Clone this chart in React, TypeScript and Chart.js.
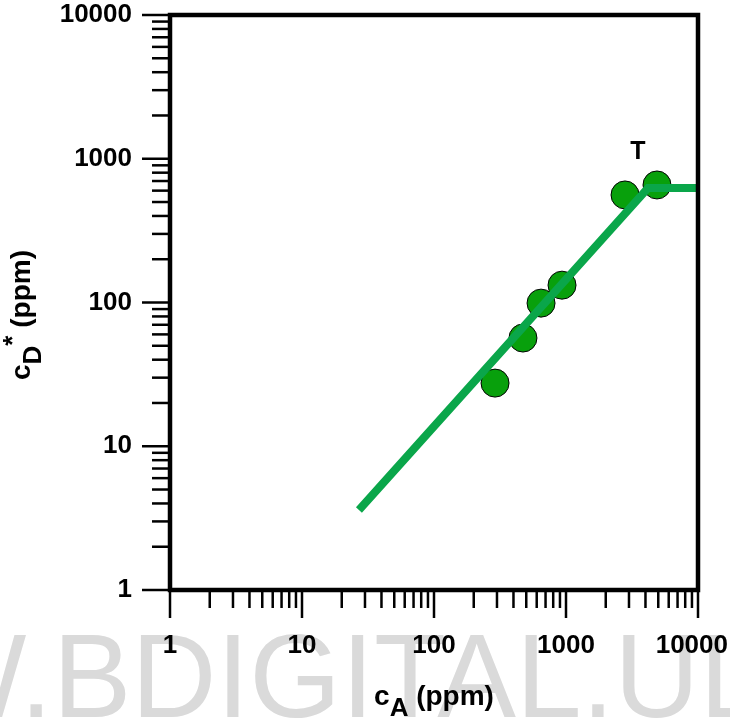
import React, { useEffect, useRef } from 'react';
import { Chart, registerables } from 'chart.js';
Chart.register(...registerables);

const xTickValues = [1, 10, 100, 1000, 10000];
const yTickValues = [1, 10, 100, 1000, 10000];
const pointX = [290, 472, 647, 933, 2800, 4890];
const pointY = [27.5, 56.6, 99, 132, 560, 657];
const fitX = [27, 4180, 10000];
const fitY = [3.6, 626, 626];
const annotationText = 'T';
const annotationX = 3510;
const annotationY = 1114;
const watermarkText = 'W.BDIGITAL.UL';

const FONT = '"Liberation Sans", Arial, Helvetica, sans-serif';

type Part = { text: string; size: number; dy: number };

function drawParts(ctx: CanvasRenderingContext2D, parts: Part[], cx: number, cy: number, rotate: boolean) {
  ctx.save();
  ctx.translate(cx, cy);
  if (rotate) ctx.rotate(-Math.PI / 2);
  ctx.fillStyle = '#000';
  ctx.textBaseline = 'alphabetic';
  ctx.textAlign = 'left';
  let total = 0;
  const widths = parts.map((p) => {
    ctx.font = `bold ${p.size}px ${FONT}`;
    const w = ctx.measureText(p.text).width;
    total += w;
    return w;
  });
  let x = -total / 2;
  parts.forEach((p, i) => {
    ctx.font = `bold ${p.size}px ${FONT}`;
    ctx.fillText(p.text, x, p.dy);
    x += widths[i];
  });
  ctx.restore();
}

const decor = {
  id: 'decor',
  beforeDraw(chart: any) {
    const ctx = chart.ctx as CanvasRenderingContext2D;
    ctx.save();
    ctx.fillStyle = '#ffffff';
    ctx.fillRect(0, 0, chart.width, chart.height);
    ctx.font = `118px ${FONT}`;
    ctx.fillStyle = '#dadada';
    ctx.textBaseline = 'alphabetic';
    ctx.textAlign = 'left';
    ctx.fillText(watermarkText, -85, 717);
    ctx.restore();
  },
  afterDraw(chart: any) {
    const ctx = chart.ctx as CanvasRenderingContext2D;
    const a = chart.chartArea;
    const xs = chart.scales.x;
    const ys = chart.scales.y;
    ctx.save();
    ctx.strokeStyle = '#000';
    ctx.lineWidth = 2.5;
    ctx.lineCap = 'butt';
    for (let e = 0; e < xTickValues.length; e++) {
      const base = xTickValues[e];
      for (let m = 1; m <= 9; m++) {
        if (e === xTickValues.length - 1 && m > 1) break;
        const v = base * m;
        const len = m === 1 ? 28 : 18;
        const px = xs.getPixelForValue(v);
        ctx.beginPath();
        ctx.moveTo(px, a.bottom);
        ctx.lineTo(px, a.bottom + len);
        ctx.stroke();
      }
    }
    for (let e = 0; e < yTickValues.length; e++) {
      const base = yTickValues[e];
      for (let m = 1; m <= 9; m++) {
        if (e === yTickValues.length - 1 && m > 1) break;
        const v = base * m;
        const len = m === 1 ? 28 : 18;
        const py = ys.getPixelForValue(v);
        ctx.beginPath();
        ctx.moveTo(a.left - len, py);
        ctx.lineTo(a.left, py);
        ctx.stroke();
      }
    }
    ctx.lineWidth = 4.5;
    ctx.strokeRect(a.left, a.top, a.right - a.left, a.bottom - a.top);

    // x tick labels (kept inside the canvas)
    ctx.fillStyle = '#000';
    ctx.font = `bold 26px ${FONT}`;
    ctx.textAlign = 'center';
    ctx.textBaseline = 'middle';
    xTickValues.forEach((v) => {
      const txt = String(v);
      const w = ctx.measureText(txt).width;
      const px = Math.min(xs.getPixelForValue(v), chart.width - 2 - w / 2);
      ctx.fillText(txt, px, 646);
    });

    // annotation
    ctx.font = `bold 25px ${FONT}`;
    ctx.fillText(annotationText, xs.getPixelForValue(annotationX), ys.getPixelForValue(annotationY));
    ctx.restore();

    drawParts(ctx, [
      { text: 'c', size: 28, dy: 0 },
      { text: 'A', size: 26, dy: 11 },
      { text: ' (ppm)', size: 28, dy: 0 },
    ], 434, 705, false);
    drawParts(ctx, [
      { text: 'c', size: 28, dy: 0 },
      { text: 'D', size: 26, dy: 11 },
      { text: '*', size: 26, dy: -9 },
      { text: ' (ppm)', size: 28, dy: 0 },
    ], 30, 315, true);
  },
};

export default function App() {
  const ref = useRef<HTMLCanvasElement | null>(null);
  useEffect(() => {
    document.body.style.margin = '0';
    const canvas = ref.current!;
    const chart = new Chart(canvas, {
      type: 'scatter',
      data: {
        datasets: [
          {
            type: 'line',
            data: fitX.map((x, i) => ({ x, y: fitY[i] })),
            borderColor: '#0aa64a',
            borderWidth: 8,
            pointRadius: 0,
            fill: false,
            tension: 0,
            order: 0,
            borderCapStyle: 'butt',
            borderJoinStyle: 'miter',
          } as any,
          {
            type: 'scatter',
            data: pointX.map((x, i) => ({ x, y: pointY[i] })),
            backgroundColor: '#08a00c',
            borderColor: '#000',
            borderWidth: 1,
            pointRadius: 14,
            pointHoverRadius: 14,
            order: 1,
          } as any,
        ],
      },
      options: {
        responsive: false,
        animation: false,
        events: [],
        layout: { padding: { left: 0, top: 15, right: 32, bottom: 0 } },
        plugins: { legend: { display: false }, tooltip: { enabled: false } },
        scales: {
          x: {
            type: 'logarithmic',
            min: 1,
            max: 10000,
            afterBuildTicks: (s: any) => {
              s.ticks = xTickValues.map((v) => ({ value: v }));
            },
            afterFit: (s: any) => {
              s.height = 133;
              s.paddingLeft = 0;
              s.paddingRight = 0;
            },
            grid: { display: false },
            border: { display: false },
            ticks: { display: false, autoSkip: false },
          },
          y: {
            type: 'logarithmic',
            min: 1,
            max: 10000,
            afterBuildTicks: (s: any) => {
              s.ticks = yTickValues.map((v) => ({ value: v }));
            },
            afterFit: (s: any) => {
              s.width = 170;
              s.paddingTop = 0;
              s.paddingBottom = 0;
            },
            grid: { display: true, drawOnChartArea: false, drawTicks: true, tickLength: 28, color: 'rgba(0,0,0,0)' },
            border: { display: false },
            ticks: {
              autoSkip: false,
              padding: 10,
              color: '#000',
              font: { family: FONT, size: 26, weight: 'bold' },
              callback: (v: any) => String(v),
            },
          },
        },
      },
      plugins: [decor],
    });
    return () => chart.destroy();
  }, []);
  return (
    <div style={{ width: 730, height: 723 }}>
      <canvas ref={ref} width={730} height={723} />
    </div>
  );
}
